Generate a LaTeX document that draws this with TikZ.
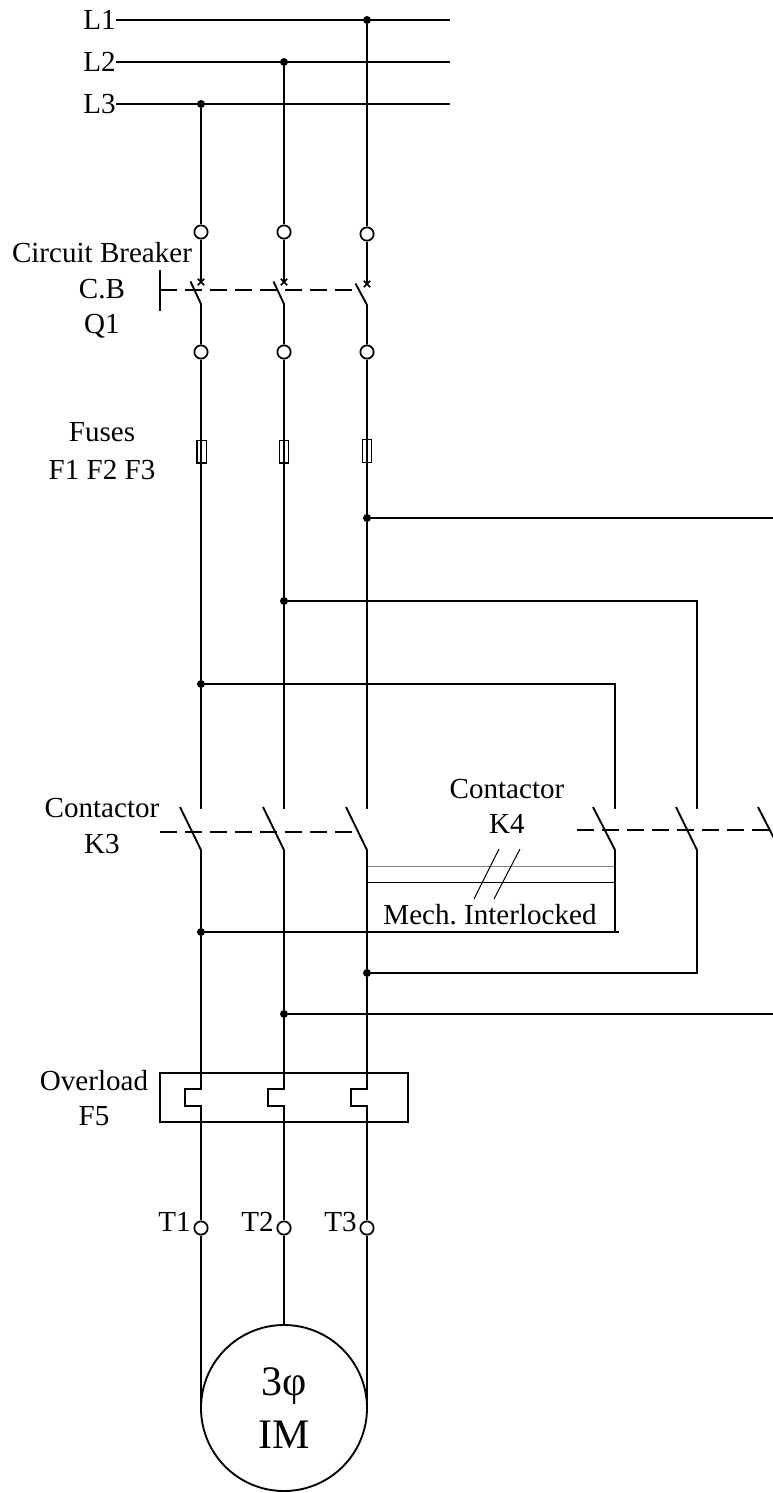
\documentclass[tikz,border=0pt]{standalone}
\usepackage{fontspec}
\setmainfont{Liberation Serif}
\usetikzlibrary{positioning,shapes.misc}
\tikzset{
  wire/.style={line width=1.4pt},
  thinwire/.style={line width=.75pt},
  linkage/.style={line width=1.4pt, dash pattern=on 12.5pt off 6.25pt},
  term/.style={draw, circle, line width=1.3pt, inner sep=0, minimum size=10pt},
  junct/.style={fill, circle, inner sep=0, minimum size=6pt},
  trip/.style={draw, cross out, line width=1.3pt, inner sep=0, minimum size=3.5pt},
  fuse/.style={draw, rectangle, line width=1pt, inner sep=0, minimum width=7pt, minimum height=17pt},
  lbl/.style={inner sep=0, align=center, font=\fontsize{21.8}{26.6}\selectfont},
}
\begin{document}
\begin{tikzpicture}[x=.75pt, y=-.75pt]
  \clip (0,0) rectangle (773,1493);
  % supply
  \node[lbl, anchor=east] (L1) at (116,20) {L1};
  \node[lbl, anchor=east] (L2) at (116,62) {L2};
  \node[lbl, anchor=east] (L3) at (116,104) {L3};
  \node[junct] (a3) at (367,20) {};
  \node[junct] (a2) at (284,62) {};
  \node[junct] (a1) at (201,104) {};
  \coordinate (e1) at (450,20);
  \coordinate (e2) at (450,62);
  \coordinate (e3) at (450,104);
  \draw[wire] (L1) -- (e1);
  \draw[wire] (L2) -- (e2);
  \draw[wire] (L3) -- (e3);

  % breaker
  \node[term] (u1) at (201,232) {};
  \node[term] (u2) at (284,232) {};
  \node[term] (u3) at (367,234) {};
  \node[trip] (x1) at (201,282) {};
  \node[trip] (x2) at (284,282) {};
  \node[trip] (x3) at (367,284) {};
  \node[term] (v1) at (201,352) {};
  \node[term] (v2) at (284,352) {};
  \node[term] (v3) at (367,352) {};
  \coordinate (b1) at (201,304);
  \coordinate (b2) at (284,304);
  \coordinate (b3) at (367,305);
  \coordinate (h1) at (190.5,281.5);
  \coordinate (h2) at (273.5,281.5);
  \coordinate (h3) at (355.5,283.5);
  \draw[wire] (a1) -- (u1) (u1) -- (x1.center);
  \draw[wire] (a2) -- (u2) (u2) -- (x2.center);
  \draw[wire] (a3) -- (u3) (u3) -- (x3.center);
  \draw[wire] (h1) -- (b1) -- (v1);
  \draw[wire] (h2) -- (b2) -- (v2);
  \draw[wire] (h3) -- (b3) -- (v3);
  \coordinate (cbA) at (160,290);
  \coordinate (cbB) at (353,290);
  \coordinate (cbT) at (160,270);
  \coordinate (cbD) at (160,311);
  \draw[wire] (cbT) -- (cbD);
  \draw[linkage] (cbA) -- (cbB);
  \node[lbl] (cbtext) at (102,290.5) {Circuit Breaker\\C.B\\Q1};

  % fuses
  \node[fuse] (f1) at (201.5,451.5) {};
  \node[fuse] (f2) at (284,451.5) {};
  \node[fuse] (f3) at (367,451) {};
  \node[lbl, font=\fontsize{21.8}{28.5}\selectfont] (fusetext) at (102,451) {Fuses\\F1 F2 F3};
  \node[junct] (j1) at (201,684) {};
  \node[junct] (j2) at (284,601) {};
  \node[junct] (j3) at (367,518) {};
  \coordinate (t1) at (201,809);
  \coordinate (t2) at (284,809);
  \coordinate (t3) at (367,809);
  \draw[wire] (v1) -- (j1) -- (t1);
  \draw[wire] (v2) -- (j2) -- (t2);
  \draw[wire] (v3) -- (j3) -- (t3);

  % branches to K4
  \coordinate (w1) at (615,684);
  \coordinate (w2) at (697,601);
  \coordinate (w3) at (773,518);
  \coordinate (y1) at (615,809);
  \coordinate (y2) at (697,809);
  \draw[wire] (j1) -- (w1) -- (y1);
  \draw[wire] (j2) -- (w2) -- (y2);
  \draw[wire] (j3) -- (w3);

  % contactor K3
  \coordinate (g1) at (180,807);
  \coordinate (g2) at (263,807);
  \coordinate (g3) at (346,807);
  \coordinate (m1) at (201,850);
  \coordinate (m2) at (284,850);
  \coordinate (m3) at (367,850);
  \coordinate (k3A) at (159.5,832);
  \coordinate (k3B) at (352,832);
  \draw[wire] (g1) -- (m1);
  \draw[wire] (g2) -- (m2);
  \draw[wire] (g3) -- (m3);
  \draw[linkage] (k3B) -- (k3A);
  \node[lbl] (k3text) at (102,826) {Contactor\\K3};

  % contactor K4
  \coordinate (g4) at (593,807);
  \coordinate (g5) at (676,807);
  \coordinate (g6) at (758,807);
  \coordinate (m4) at (615,850);
  \coordinate (m5) at (697,850);
  \coordinate (m6) at (780,850);
  \coordinate (k4A) at (577,830);
  \coordinate (k4B) at (773,830);
  \draw[wire] (g4) -- (m4);
  \draw[wire] (g5) -- (m5);
  \draw[wire] (g6) -- (m6);
  \draw[linkage] (k4A) -- (k4B);
  \node[lbl] (k4text) at (507,806.5) {Contactor\\K4};

  % interlock
  \coordinate (i1) at (367,866.5);
  \coordinate (i2) at (615,866.5);
  \coordinate (i3) at (367,882.5);
  \coordinate (i4) at (615,882.5);
  \coordinate (s1) at (499,849);
  \coordinate (s2) at (474,899);
  \coordinate (s3) at (520,849);
  \coordinate (s4) at (494,899);
  \draw[thinwire, gray] (i1) -- (i2);
  \draw[thinwire] (i3) -- (i4);
  \draw[thinwire] (s1) -- (s2);
  \draw[thinwire] (s3) -- (s4);
  \node[lbl] (mechtext) at (490,915) {Mech.\ Interlocked};

  % outgoing crossed lines
  \node[junct] (n1) at (201,932) {};
  \node[junct] (n3) at (367,973) {};
  \node[junct] (n2) at (284,1014) {};
  \coordinate (z1) at (619,932);
  \coordinate (z4) at (615,932);
  \coordinate (z2) at (697,973);
  \coordinate (z3) at (773,1014);
  \draw[wire] (m1) -- (n1);
  \draw[wire] (m2) -- (n2);
  \draw[wire] (m3) -- (n3);
  \draw[wire] (m4) -- (z4);
  \draw[wire] (n1) -- (z1);
  \draw[wire] (n3) -- (z2) -- (m5);
  \draw[wire] (n2) -- (z3);

  % overload
  \node[draw, rectangle, line width=1.4pt, inner sep=0, outer sep=0, minimum width=186pt, minimum height=37pt] (ovl) at (284,1097.5) {};
  \node[lbl] (ovltext) at (94,1098) {Overload\\F5};
  \node[term] (T1) at (201,1228) {};
  \node[term] (T2) at (284,1228) {};
  \node[term] (T3) at (367,1228) {};
  \coordinate (q1) at (201,1089);
  \coordinate (q2) at (284,1089);
  \coordinate (q3) at (367,1089);
  \draw[wire] (n1) -- (q1) -- ++(-16,0) -- ++(0,17) -- ++(16,0) -- (T1);
  \draw[wire] (n2) -- (q2) -- ++(-16,0) -- ++(0,17) -- ++(16,0) -- (T2);
  \draw[wire] (n3) -- (q3) -- ++(-16,0) -- ++(0,17) -- ++(16,0) -- (T3);
  \node[lbl, anchor=east] (T1text) at (191,1222) {T1};
  \node[lbl, anchor=east] (T2text) at (274,1222) {T2};
  \node[lbl, anchor=east] (T3text) at (357,1222) {T3};

  % motor
  \node[draw, circle, line width=1.4pt, inner sep=0, outer sep=0, minimum size=124.5pt, align=center, font=\fontsize{31.5}{39.5}\selectfont] (motor) at (284,1408) {3φ\\IM};
  \draw[wire] (T1) -- (motor.west);
  \draw[wire] (T2) -- (motor.north);
  \draw[wire] (T3) -- (motor.east);
\end{tikzpicture}
\end{document}
